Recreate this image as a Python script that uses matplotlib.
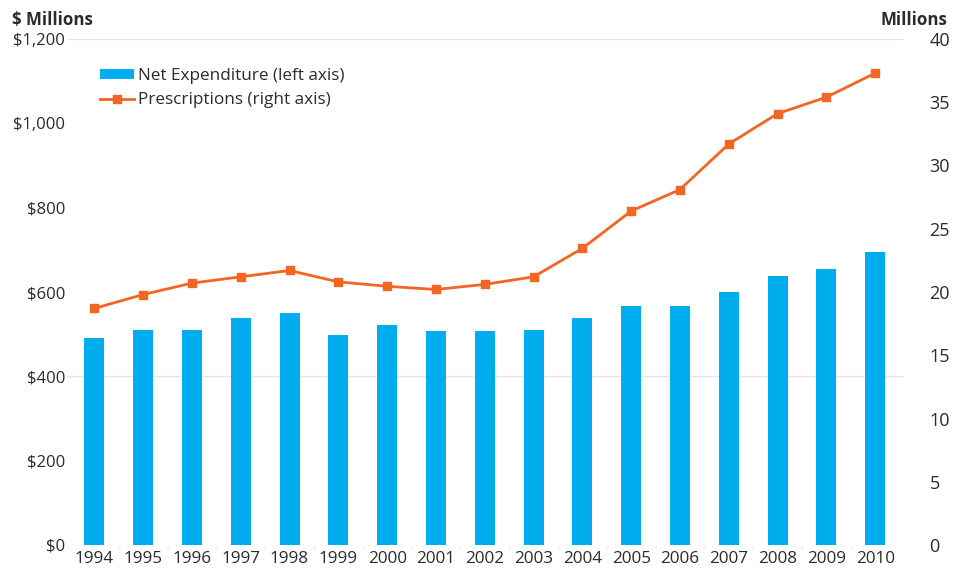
import matplotlib
matplotlib.use("Agg")
import matplotlib.pyplot as plt
from matplotlib.patches import Patch
from matplotlib.lines import Line2D
import numpy as np

plt.rcParams['font.family'] = ['Open Sans', 'DejaVu Sans']

years = ['1994', '1995', '1996', '1997', '1998', '1999', '2000', '2001', '2002',
         '2003', '2004', '2005', '2006', '2007', '2008', '2009', '2010']
net_expenditure = [490, 511, 511, 539, 550, 499, 521, 508, 508,
                   511, 539, 567, 567, 600, 638, 655, 694]
prescriptions = [18.7, 19.8, 20.7, 21.2, 21.7, 20.8, 20.45, 20.2, 20.6,
                 21.2, 23.45, 26.4, 28.1, 31.7, 34.1, 35.4, 37.3]
left_ticks = [0, 200, 400, 600, 800, 1000, 1200]
left_labels = ['$0', '$200', '$400', '$600', '$800', '$1,000', '$1,200']
right_ticks = [0, 5, 10, 15, 20, 25, 30, 35, 40]

BLUE = '#00AEEF'
ORANGE = '#F26522'
TEXT = '#2b2b2b'

fig = plt.figure(figsize=(9.54, 5.70), dpi=100)
ax = fig.add_axes([67/954, 25/570, (903-67)/954, (545-39)/570])
ax2 = ax.twinx()

x = np.arange(len(years))
ax.bar(x, net_expenditure, width=0.41, color=BLUE, zorder=2)
ax2.plot(x, prescriptions, color=ORANGE, lw=2, marker='s', ms=6, zorder=3)

ax.set_xlim(-0.56, len(years) - 1 + 0.57)
ax.set_ylim(0, 1200)
ax2.set_ylim(0, 40)

# light reference lines
for yv in (400, 1200):
    ax.axhline(yv, color='#e4e4e4', lw=1, zorder=1)

ax.set_yticks(left_ticks)
ax.set_yticklabels(left_labels)
ax2.set_yticks(right_ticks)
ax2.set_yticklabels([str(t) for t in right_ticks])
ax.set_xticks(x)
ax.set_xticklabels(years)
ax.set_xticks(np.arange(len(years) - 1) + 0.5, minor=True)

ax.tick_params(axis='y', length=0, pad=1.5, labelsize=12, labelcolor=TEXT)
ax2.tick_params(axis='y', length=0, pad=19, labelsize=13, labelcolor=TEXT)
ax.tick_params(axis='x', which='major', length=0, pad=4, labelsize=12.3, labelcolor=TEXT)
ax.tick_params(axis='x', which='minor', length=3, color='#eeeeee', width=1)

for a in (ax, ax2):
    for s in a.spines.values():
        s.set_visible(False)
ax.set_zorder(ax2.get_zorder() - 1)
ax2.patch.set_visible(False)

fig.text(12/954, 1 - 20/570, '$ Millions', ha='left', va='center',
         fontsize=12.2, fontweight='bold', color=TEXT)
fig.text(947/954, 1 - 20/570, 'Millions', ha='right', va='center',
         fontsize=12.2, fontweight='bold', color=TEXT)

handles = [Patch(facecolor=BLUE, edgecolor='none'),
           Line2D([], [], color=ORANGE, lw=2, marker='s', ms=6)]
ax.legend(handles, ['Net Expenditure (left axis)', 'Prescriptions (right axis)'],
          loc='upper left', bbox_to_anchor=(100/954, 1 - 68/570),
          bbox_transform=fig.transFigure, frameon=False, fontsize=12.3,
          handlelength=2.0, handleheight=0.55, handletextpad=0.25,
          labelspacing=0.48, borderpad=0, borderaxespad=0, labelcolor=TEXT)

fig.savefig('out.png', dpi=100)
